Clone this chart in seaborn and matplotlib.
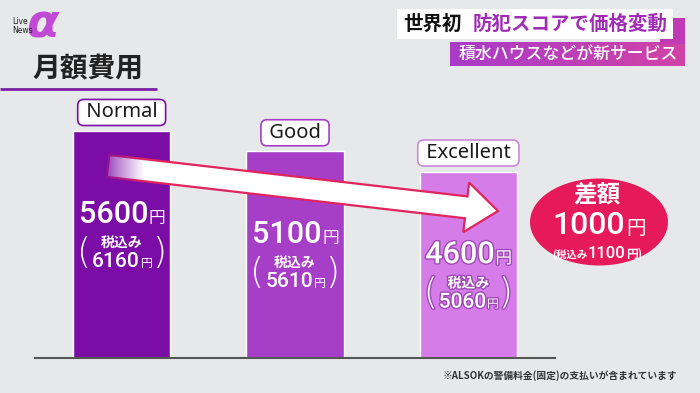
import numpy as np
import matplotlib.pyplot as plt
import matplotlib.patheffects as pe
from matplotlib.patches import Polygon, Rectangle, Ellipse
from matplotlib.colors import to_rgb
import seaborn as sns

# data
tiers = ['Normal', 'Good', 'Excellent']
prices = [5600, 5100, 4600]
taxed = [6160, 5610, 5060]
bar_colors = ['#7B0DA6', '#A63EC7', '#D67CE9']
box_edges = ['#7B0DA6', '#A63EC7', '#C98ADB']
diff = 1000
diff_taxed = 1100

title = '月額費用'
head1 = '世界初'
head2 = '防犯スコアで価格変動'
head3 = '積水ハウスなどが新サービス'
note = '※ALSOKの警備料金(固定)の支払いが含まれています'

bg = '#E6E8EA'
badge = '#E6195A'
lbl_font = ['Noto Sans', 'DejaVu Sans']
num_font = ['Roboto', 'DejaVu Sans']

sns.set_theme(style='white')
plt.rcParams['font.family'] = ['Noto Sans CJK JP', 'DejaVu Sans']

fig = plt.figure(figsize=(7, 3.93), dpi=100, facecolor=bg)

# bars
ax = fig.add_axes([35 / 700, 35 / 393, 520 / 700, 283.8 / 393])
ax.set_facecolor('none')
sns.barplot(x=tiers, y=prices, hue=tiers, palette=bar_colors, legend=False,
            width=0.56, saturation=1, ax=ax)
ax.set_xlim(-0.5, 2.5)
ax.set_ylim(0, 7000)
ax.set_xticks([])
ax.set_yticks([])
ax.set_xlabel('')
ax.set_ylabel('')
for s in ['left', 'right', 'top']:
    ax.spines[s].set_visible(False)
ax.spines['bottom'].set_color('#555555')
ax.spines['bottom'].set_linewidth(1.5)

for i, (t, p, tx) in enumerate(zip(tiers, prices, taxed)):
    fx = [pe.withStroke(linewidth=2, foreground='#9E49B6')] if i == 2 else None
    ax.annotate(f' {t} ', xy=(i, p), xytext=(0, 13.3), textcoords='offset points',
                ha='center', va='center', fontsize=14.5, color='#1a1a1a',
                family=lbl_font,
                bbox=dict(boxstyle='round,pad=0.15,rounding_size=0.3', fc='white',
                          ec=box_edges[i], lw=1.2))
    ax.annotate(f'{p}', xy=(i, p), xytext=(19, -66), textcoords='offset points',
                ha='right', va='baseline', fontsize=22, fontweight='medium',
                family=num_font, color='white', path_effects=fx)
    ax.annotate('円', xy=(i, p), xytext=(19.5, -66), textcoords='offset points',
                ha='left', va='baseline', fontsize=12, color='white', path_effects=fx)
    ax.annotate('税込み', xy=(i, p), xytext=(0, -80.6), textcoords='offset points',
                ha='center', va='center', fontsize=10, fontweight='bold',
                color='white', path_effects=fx)
    ax.annotate(f'{tx}', xy=(i, p), xytext=(13, -98), textcoords='offset points',
                ha='right', va='baseline', fontsize=15, fontweight='medium',
                family=num_font, color='white', path_effects=fx)
    ax.annotate('円', xy=(i, p), xytext=(13.5, -98), textcoords='offset points',
                ha='left', va='baseline', fontsize=8.5, color='white', path_effects=fx)
    for sx, ch in [(-27, '('), (27, ')')]:
        ax.annotate(ch, xy=(i, p), xytext=(sx, -88), textcoords='offset points',
                    ha='center', va='center', fontsize=26, color='white',
                    family='DejaVu Sans', fontweight='light', path_effects=fx)

# decoration layer in pixel coords
deco = fig.add_axes([0, 0, 1, 1])
deco.set_facecolor('none')
deco.axis('off')

# arrow
T = np.array([108.0, 166.0])
P = np.array([498.0, 211.0])
u = (P - T) / np.linalg.norm(P - T)
n = np.array([-u[1], u[0]])
sw, hw, hl = 11, 25, 32
N = P - u * hl
pts = [T - n * sw, N - n * sw, N - n * hw, P, N + n * hw, N + n * sw, T + n * sw]
deco.add_patch(Polygon(pts, closed=True, fc='white', ec='#E0245E', lw=1.6,
                       joinstyle='miter'))
c = to_rgb(bar_colors[0])
grad = np.zeros((1, 60, 4))
grad[0, :, :3] = c
grad[0, :, 3] = np.clip(1 - np.linspace(0, 1, 60) ** 0.8, 0, 1)
im = deco.imshow(grad, extent=(100, 145, 190, 140), aspect='auto', zorder=3)
clip = Polygon([T - n * (sw + 3) - u * 10, T - n * (sw + 3) + u * 60,
                T + n * (sw + 3) + u * 60, T + n * (sw + 3) - u * 10],
               closed=True, transform=deco.transData, visible=False)
deco.add_patch(clip)
im.set_clip_path(clip)

# badge
deco.add_patch(Ellipse((599, 222), 138, 87, fc=badge, ec='none'))
deco.text(597, 195, '差額', ha='center', va='center', fontsize=17,
          fontweight='bold', color='white')
deco.text(625, 234, f'{diff}', ha='right', va='baseline', fontsize=23,
          fontweight='medium', family=num_font, color='white')
deco.text(626, 234, '円', ha='left', va='baseline', fontsize=14, color='white')
deco.text(587, 258, '(税込み', ha='right', va='baseline', fontsize=7.5,
          fontweight='bold', color='white')
deco.text(588, 258, f'{diff_taxed}', ha='left', va='baseline', fontsize=12,
          fontweight='medium', family=num_font, color='white')
deco.text(626, 258, '円)', ha='left', va='baseline', fontsize=8.5,
          fontweight='bold', color='white')

# title
deco.text(32, 69, title, ha='left', va='center', fontsize=20, fontweight='bold',
          color='#222222')
deco.plot([0, 157], [89, 89], color='#7B1FA2', lw=2, solid_capstyle='butt')

# headline
deco.add_patch(Rectangle((660, 18), 25, 26, fc='#C03AB6', ec='none'))
deco.add_patch(Rectangle((397, 9), 276, 30, fc='white', ec='none'))
g2 = np.zeros((1, 100, 3))
g2[0] = np.linspace(to_rgb('#A93BC8'), to_rgb('#D043A6'), 100)
deco.imshow(g2, extent=(450, 685, 66, 42), aspect='auto')
deco.text(403, 24, head1, ha='left', va='center', fontsize=14, fontweight='bold',
          color='#111111')
deco.text(473, 24, head2, ha='left', va='center', fontsize=14, fontweight='bold',
          color='#A02CB5')
deco.text(568, 54, head3, ha='center', va='center', fontsize=12.2,
          fontweight='medium', color='white')

# logo
deco.text(42, 25, 'α', ha='center', va='center', fontsize=34, color='#C04AD6',
          family='DejaVu Sans', fontweight='bold', style='italic')
deco.text(12, 26, 'Live\nNews', ha='left', va='center', fontsize=5.5,
          color='#222222', family='DejaVu Sans', linespacing=0.9)

# footnote
deco.text(677, 376, note, ha='right', va='center', fontsize=7, fontweight='bold',
          color='#333333')

deco.set_xlim(0, 700)
deco.set_ylim(393, 0)

fig.savefig('out.png', dpi=100, facecolor=bg)
